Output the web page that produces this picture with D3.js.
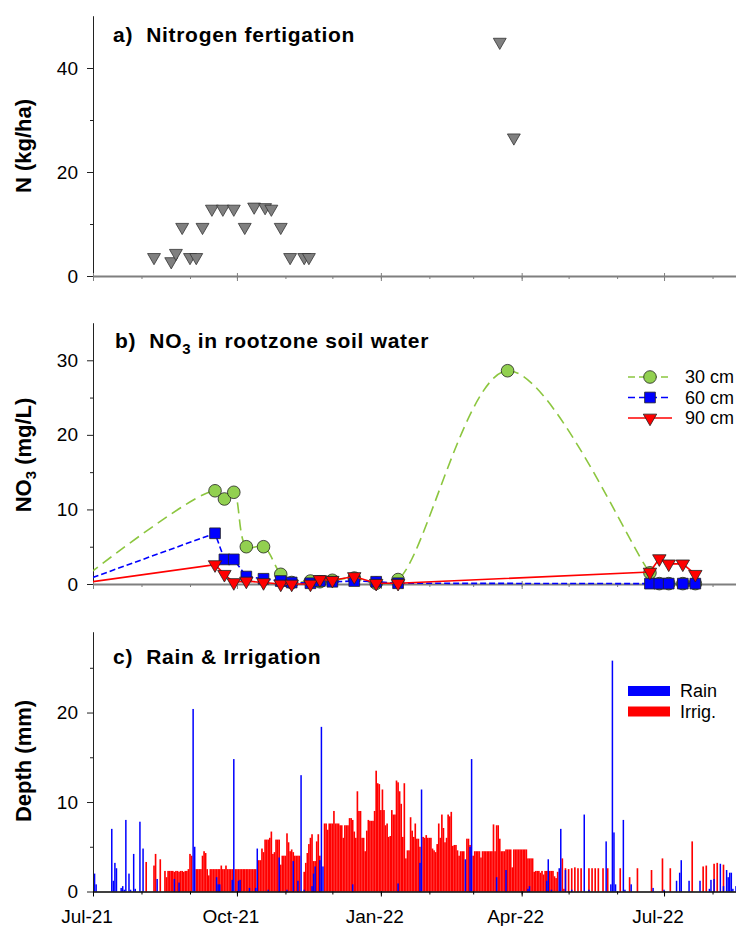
<!DOCTYPE html>
<html>
<head>
<meta charset="utf-8">
<script src="https://cdn.jsdelivr.net/npm/d3@7"></script>
<style>
  body { margin: 0; background: #fff; }
  svg text { font-family: "Liberation Sans", Arial, sans-serif; fill: #000; }
</style>
</head>
<body>
<div id="viz"></div>
<script>
var parse = d3.timeParse('%Y-%m-%d');

// a) nitrogen fertigation events (kg N/ha)
var fertDates = ['2021-08-09','2021-08-20','2021-08-23','2021-08-27','2021-09-01','2021-09-05',
                 '2021-09-09','2021-09-15','2021-09-22','2021-09-29','2021-10-06','2021-10-12',
                 '2021-10-19','2021-10-23','2021-10-29','2021-11-04','2021-11-13','2021-11-16',
                 '2022-03-18','2022-03-27'];
var fertN = [3.6, 2.8, 4.4, 9.4, 3.6, 3.6, 9.4, 12.9, 12.9, 12.9, 9.4, 13.3,
             13.2, 12.9, 9.4, 3.6, 3.6, 3.6, 45.0, 26.6];

// b) NO3 in soil water (mg/L), first sample is before the plotted window
var no3Dates = ['2021-06-20','2021-09-17','2021-09-23','2021-09-29','2021-10-07','2021-10-18',
                '2021-10-29','2021-11-05','2021-11-17','2021-11-23','2021-12-01','2021-12-15',
                '2021-12-29','2022-01-12','2022-03-23','2022-06-22','2022-06-28','2022-07-04',
                '2022-07-13','2022-07-21'];
var no3_30 = [0, 12.5, 11.4, 12.3, 5.0, 5.0, 1.3, 0.2, 0.4, 0.3, 0.5, 0.8, 0.1, 0.6, 28.6, 1.5, 0.05, 0.05, 0.05, 0.05];
var no3_60 = [0.05, 6.8, 3.3, 3.3, 1.0, 0.7, 0.4, 0.2, 0.1, 0.4, 0.3, 0.4, 0.3, 0.1, null, 0.05, 0.05, 0.05, 0.05, 0.05];
var no3_90 = [0, 2.6, 1.3, 0.2, 0.4, 0.2, 0, 0, 0, 0.6, 0.5, 1.0, 0.1, 0.1, null, 1.6, 3.4, 2.7, 2.7, 1.3];
var depthNames = ['30 cm', '60 cm', '90 cm'];

// c) daily rain (mm)
var rainDates = ['2021-07-02','2021-07-03','2021-07-13','2021-07-14','2021-07-15','2021-07-16','2021-07-19',
  '2021-07-20','2021-07-21','2021-07-22','2021-07-24','2021-07-25','2021-07-27','2021-07-28','2021-07-31',
  '2021-08-02','2021-08-11','2021-08-22','2021-08-25','2021-09-03','2021-09-04','2021-09-18','2021-09-19',
  '2021-09-20','2021-09-28','2021-09-29','2021-10-02','2021-10-03','2021-10-09','2021-10-13','2021-10-14',
  '2021-10-21','2021-10-28','2021-11-02','2021-11-06','2021-11-09','2021-11-11','2021-11-13','2021-11-18',
  '2021-11-19','2021-11-20','2021-11-23','2021-11-24','2021-11-25','2021-12-14','2022-01-12','2022-01-26',
  '2022-01-27','2022-02-24','2022-02-27','2022-02-28','2022-03-16','2022-03-22','2022-04-05','2022-04-06',
  '2022-04-17','2022-04-18','2022-04-20','2022-04-25','2022-04-26','2022-04-29','2022-05-03','2022-05-11',
  '2022-05-14','2022-05-25','2022-05-28','2022-05-29','2022-05-30','2022-05-31','2022-06-05','2022-06-06',
  '2022-06-10','2022-06-24','2022-07-01','2022-07-09','2022-07-11','2022-07-12','2022-07-17','2022-07-24',
  '2022-07-30','2022-07-31','2022-08-02','2022-08-06','2022-08-08','2022-08-10','2022-08-11','2022-08-12',
  '2022-08-13','2022-08-14','2022-08-16'];
var rainMm = [2.0, 0.8, 7.0, 1.2, 3.2, 2.6, 0.4,
  0.6, 0.2, 8.0, 2.0, 0.2, 4.2, 0.3, 7.8,
  4.8, 1.4, 1.4, 1.0, 20.4, 5.0, 1.6, 0.8,
  0.8, 1.3, 14.8, 1.2, 1.3, 0.4, 0.4, 4.8,
  0.2, 3.8, 0.2, 3.4, 1.2, 13.0, 0.2, 0.6,
  2.0, 2.8, 3.5, 18.4, 2.8, 0.8, 0.9, 3.2,
  11.4, 3.6, 5.0, 14.8, 1.6, 2.4, 0.3, 0.6,
  1.2, 3.6, 0.2, 2.6, 7.0, 2.4, 0.2, 8.6,
  0.2, 5.6, 0.8, 25.8, 6.6, 0.8, 8.0, 0.2,
  0.8, 0.4, 0.2, 1.2, 2.1, 3.5, 1.2, 1.2,
  0.3, 1.3, 1.4, 3.1, 0.6, 2.4, 1.6, 2.1,
  2.1, 0.3, 0.6];

// c) daily irrigation (mm), one value per day from irrigStart
var irrigStart = '2021-07-01';
var irrigMm = [
  0,0,0,0,0,0,0,0,0,0,0,0,0,0,0,0,0,0,0,0,0,0,0,0,0,0,0,0,0,0,0,
  0,0,0,3.3,0,0,0,0,2.9,4.2,0,0,3.6,0,0,2.3,1.6,2.3,2.3,2.3,2.3,2.2,2.3,2.3,2.2,2.3,2.3,2.2,2.3,2.3,2.5,
  4.2,4.0,0,0,2.5,2.5,2.5,2.5,4.0,4.5,4.3,2.5,1.8,2.5,2.5,2.5,2.5,2.5,2.5,2.5,2.9,2.5,2.5,2.9,2.5,2.5,2.5,2.5,0,2.5,
  2.5,2.5,2.5,2.5,2.5,2.5,2.5,2.5,2.5,2.5,2.5,2.5,2.5,0,3.5,3.5,4.8,4.4,5.8,5.8,5.8,6.0,6.7,4.2,4.4,5.8,5.8,5.8,3.0,4.0,4.0,
  4.0,6.5,5.5,4.5,4.7,4.4,4.0,4.0,4.0,4.0,0,0,2.2,3.2,4.3,5.3,6.0,6.4,3.4,3.4,5.6,6.4,4.0,0,0,7.6,7.6,6.9,7.6,7.6,
  7.6,9.0,7.6,7.6,7.6,7.4,7.4,6.0,7.4,7.4,7.4,8.2,8.2,8.0,6.7,6.0,11.2,9.0,9.0,6.0,6.0,4.5,6.8,8.0,7.9,7.9,7.9,9.0,13.5,12.1,12.0,
  9.1,11.4,9.1,7.4,7.6,6.1,6.2,9.1,8.6,8.6,12.4,12.2,11.2,9.8,6.1,12.1,3.7,4.6,4.6,8.3,6.8,6.1,7.6,5.9,5.9,5.0,0,6.1,6.0,6.3,6.0,
  6.0,6.0,4.8,4.6,4.4,5.3,7.6,6.0,8.6,7.1,5.5,6.0,8.6,8.4,8.9,5.1,5.2,5.2,4.6,4.0,4.5,4.5,4.5,0,5.9,5.9,5.2,0,
  4.0,4.5,4.5,4.5,4.5,3.8,4.5,4.5,4.5,4.5,4.5,4.5,4.5,7.5,4.5,7.4,7.4,5.9,4.5,4.5,4.5,4.7,4.7,4.7,4.7,2.7,4.7,4.7,4.7,4.7,4.7,
  4.7,4.7,4.7,4.7,3.7,3.7,3.7,3.7,2.2,2.3,2.3,2.3,2.1,2.3,1.9,2.3,2.3,2.3,2.3,2.3,2.3,1.7,1.5,2.2,0,0,3.7,0.3,2.6,0,
  2.5,0,2.6,0,2.7,0,2.6,0,2.6,0,0,0,0,2.6,0,2.6,0,2.6,0,2.6,0,0,2.6,0,0,2.6,0,0,0,0,0,
  0,0,2.6,0,0,0,0,0,1.6,0,0,0,0,2.6,0,0,0,0,0,0,0,0,2.4,0,0,0,0,0,0,3.7,
  0,0,0,0,2.6,0,0,0,0,0,0,0,0,0,0,0,0,0,5.6,0,0,0,0,0,0,2.8,0,2.9,0,0,0,
  0,3.1,0,3.2,0,0,0,3.0,0,0,0,0,0,0,0,0
];

var quarterLabels = ['Jul-21', 'Oct-21', 'Jan-22', 'Apr-22', 'Jul-22'];
var quarterDates = ['2021-07-01', '2021-10-01', '2022-01-01', '2022-04-01', '2022-07-01'];

var width = 736,
    height = 926,
    left = 93,
    right = 736;

var svg = d3.select('#viz').append('svg')
    .attr('width', width)
    .attr('height', height);

var x = d3.scaleTime()
    .domain([parse('2021-07-01'), parse('2022-08-16')])
    .range([left, right]);

var yA = d3.scaleLinear().domain([0, 50]).range([276, 16]);
var yB = d3.scaleLinear().domain([0, 35]).range([584, 323]);
var yC = d3.scaleLinear().domain([0, 29]).range([891.5, 632]);

svg.append('clipPath').attr('id', 'plotclip')
  .append('rect')
    .attr('x', left).attr('y', 0)
    .attr('width', right - left).attr('height', height);

function yAxis(y, major, minor) {
    var mg = svg.append('g')
        .attr('transform', 'translate(' + left + ',0)')
        .call(d3.axisLeft(y).tickValues(minor).tickSize(3).tickFormat('').tickSizeOuter(0));
    mg.selectAll('line').attr('stroke', '#222');
    var g = svg.append('g')
        .attr('transform', 'translate(' + left + ',0)')
        .call(d3.axisLeft(y).tickValues(major).tickSize(6).tickPadding(9).tickSizeOuter(0));
    g.selectAll('text').style('font-size', '19px').attr('fill', '#000');
    g.selectAll('line').attr('stroke', '#222');
    g.select('.domain').attr('stroke', '#222');
}

function xAxis(yPos, color, lineW, crossing) {
    var minorG = svg.append('g')
        .attr('transform', 'translate(0,' + yPos + ')')
        .call(d3.axisBottom(x).ticks(d3.timeMonth.every(1)).tickSize(3).tickFormat('').tickSizeOuter(0));
    minorG.selectAll('line').attr('stroke', color);
    minorG.select('.domain').remove();

    var majorG = svg.append('g')
        .attr('transform', 'translate(0,' + yPos + ')')
        .call(d3.axisBottom(x).tickValues(quarterDates.map(parse)).tickSize(5).tickFormat('').tickSizeOuter(0));
    majorG.selectAll('line').attr('stroke', color).attr('y1', crossing ? -3 : 0);
    majorG.select('.domain').attr('stroke', color).attr('stroke-width', lineW);
}

function yLabel(cy, txt, sub, rest) {
    var t = svg.append('text')
        .attr('transform', 'translate(31,' + cy + ') rotate(-90)')
        .attr('text-anchor', 'middle')
        .style('font-size', '22px')
        .style('font-weight', 'bold')
        .text(txt);
    if (sub) {
        t.append('tspan').attr('dy', 5).style('font-size', '15px').text(sub);
        t.append('tspan').attr('dy', -5).text(rest);
    }
}

function title(xPos, yPos, txt, sub, rest) {
    var t = svg.append('text')
        .attr('x', xPos)
        .attr('y', yPos)
        .style('font-size', '21px')
        .style('font-weight', 'bold')
        .style('letter-spacing', '0.7px')
        .style('white-space', 'pre')
        .text(txt);
    if (sub) {
        t.append('tspan').attr('dy', 6).style('font-size', '15px').text(sub);
        t.append('tspan').attr('dy', -6).text(rest);
    }
}

// ---------- panel a ----------
yAxis(yA, [0, 20, 40], [10, 30]);
xAxis(276, '#7f7f7f', 2, true);
title(113, 42, 'a)  Nitrogen fertigation');
yLabel(146, 'N (kg/ha)');

var tri = d3.symbol().type(d3.symbolTriangle);

svg.append('g').selectAll('path')
    .data(fertDates)
    .enter().append('path')
    .attr('d', tri.size(72)())
    .attr('transform', function(d, i) {
        return 'translate(' + x(parse(d)) + ',' + yA(fertN[i]) + ') rotate(180)';
    })
    .attr('fill', '#808080')
    .attr('stroke', '#333')
    .attr('stroke-width', 0.8);

// ---------- panel b ----------
yAxis(yB, [0, 10, 20, 30], [5, 15, 25]);
xAxis(584, '#7f7f7f', 2, true);
title(115, 348, 'b)  NO', '3', ' in rootzone soil water');
yLabel(455, 'NO', '3', ' (mg/L)');

function series(vals) {
    return no3Dates.map(function(d, i) {
        return { date: parse(d), v: vals[i] };
    }).filter(function(d) { return d.v != null; });
}

var depthStyle = [
    { data: series(no3_30), line: '#8cc63f', fill: '#92d050', dash: '11,6', curve: d3.curveCatmullRom, shape: d3.symbolCircle, size: 125 },
    { data: series(no3_60), line: '#0000ff', fill: '#0000ff', dash: '6,3', curve: d3.curveLinear, shape: d3.symbolSquare, size: 115 },
    { data: series(no3_90), line: '#ff0000', fill: '#ff0000', dash: null, curve: d3.curveLinear, shape: d3.symbolTriangle, size: 78 }
];

var plotB = svg.append('g').attr('clip-path', 'url(#plotclip)');

depthStyle.forEach(function(s) {
    var line = d3.line()
        .x(function(d) { return x(d.date); })
        .y(function(d) { return yB(d.v); })
        .curve(s.curve);

    plotB.append('path')
        .datum(s.data)
        .attr('d', line)
        .attr('fill', 'none')
        .attr('stroke', s.line)
        .attr('stroke-width', 1.6)
        .attr('stroke-dasharray', s.dash);

    plotB.append('g').selectAll('path')
        .data(s.data)
        .enter().append('path')
        .attr('d', d3.symbol().type(s.shape).size(s.size)())
        .attr('transform', function(d) {
            return 'translate(' + x(d.date) + ',' + yB(d.v) + ')' + (s.shape === d3.symbolTriangle ? ' rotate(180)' : '');
        })
        .attr('fill', s.fill)
        .attr('stroke', '#222')
        .attr('stroke-width', 0.8);
});

// legend b
var legB = svg.append('g').selectAll('g')
    .data(depthStyle)
    .enter().append('g')
    .attr('transform', function(d, i) { return 'translate(0,' + (377 + i * 20.5) + ')'; });

legB.append('line')
    .attr('x1', 628).attr('x2', 672)
    .attr('stroke', function(d) { return d.line; })
    .attr('stroke-width', 1.6)
    .attr('stroke-dasharray', function(d) { return d.dash ? '7,4' : null; });

legB.append('path')
    .attr('d', function(d) { return d3.symbol().type(d.shape).size(d.size)(); })
    .attr('transform', function(d) { return 'translate(650,0)' + (d.shape === d3.symbolTriangle ? ' rotate(180)' : ''); })
    .attr('fill', function(d) { return d.fill; })
    .attr('stroke', '#222')
    .attr('stroke-width', 0.8);

legB.append('text')
    .attr('x', 685)
    .attr('y', 6)
    .style('font-size', '18px')
    .text(function(d, i) { return depthNames[i]; });

// ---------- panel c ----------
var irrig = irrigMm.map(function(v, i) {
    return { date: d3.timeDay.offset(parse(irrigStart), i), v: v };
}).filter(function(d) { return d.v > 0; });

var rain = rainDates.map(function(d, i) {
    return { date: parse(d), v: rainMm[i] };
});

var plotC = svg.append('g').attr('clip-path', 'url(#plotclip)');

plotC.append('g').selectAll('rect')
    .data(irrig)
    .enter().append('rect')
    .attr('x', function(d) { return x(d.date) - 0.82; })
    .attr('width', 1.64)
    .attr('y', function(d) { return yC(d.v); })
    .attr('height', function(d) { return yC(0) - yC(d.v); })
    .attr('fill', '#ff0000');

plotC.append('g').selectAll('rect')
    .data(rain)
    .enter().append('rect')
    .attr('x', function(d) { return x(d.date) - 0.75; })
    .attr('width', 1.5)
    .attr('y', function(d) { return yC(d.v); })
    .attr('height', function(d) { return yC(0) - yC(d.v); })
    .attr('fill', '#0000ff');

yAxis(yC, [0, 10, 20], [5, 15, 25]);
xAxis(891.5, '#000', 1.5, false);
title(113, 664, 'c)  Rain & Irrigation');
yLabel(761, 'Depth (mm)');

svg.append('g').selectAll('text')
    .data(quarterLabels)
    .enter().append('text')
    .attr('x', function(d, i) { return x(parse(quarterDates[i])) - 6; })
    .attr('y', 923)
    .attr('text-anchor', 'middle')
    .style('font-size', '19px')
    .text(function(d) { return d; });

// legend c
var legC = [{ name: 'Rain', color: '#0000ff' }, { name: 'Irrig.', color: '#ff0000' }];
var legCg = svg.append('g').selectAll('g')
    .data(legC)
    .enter().append('g')
    .attr('transform', function(d, i) { return 'translate(0,' + (691 + i * 20.5) + ')'; });

legCg.append('rect')
    .attr('x', 628).attr('y', -5)
    .attr('width', 42).attr('height', 10)
    .attr('fill', function(d) { return d.color; });

legCg.append('text')
    .attr('x', 680)
    .attr('y', 6)
    .style('font-size', '18px')
    .text(function(d) { return d.name; });
</script>
</body>
</html>
